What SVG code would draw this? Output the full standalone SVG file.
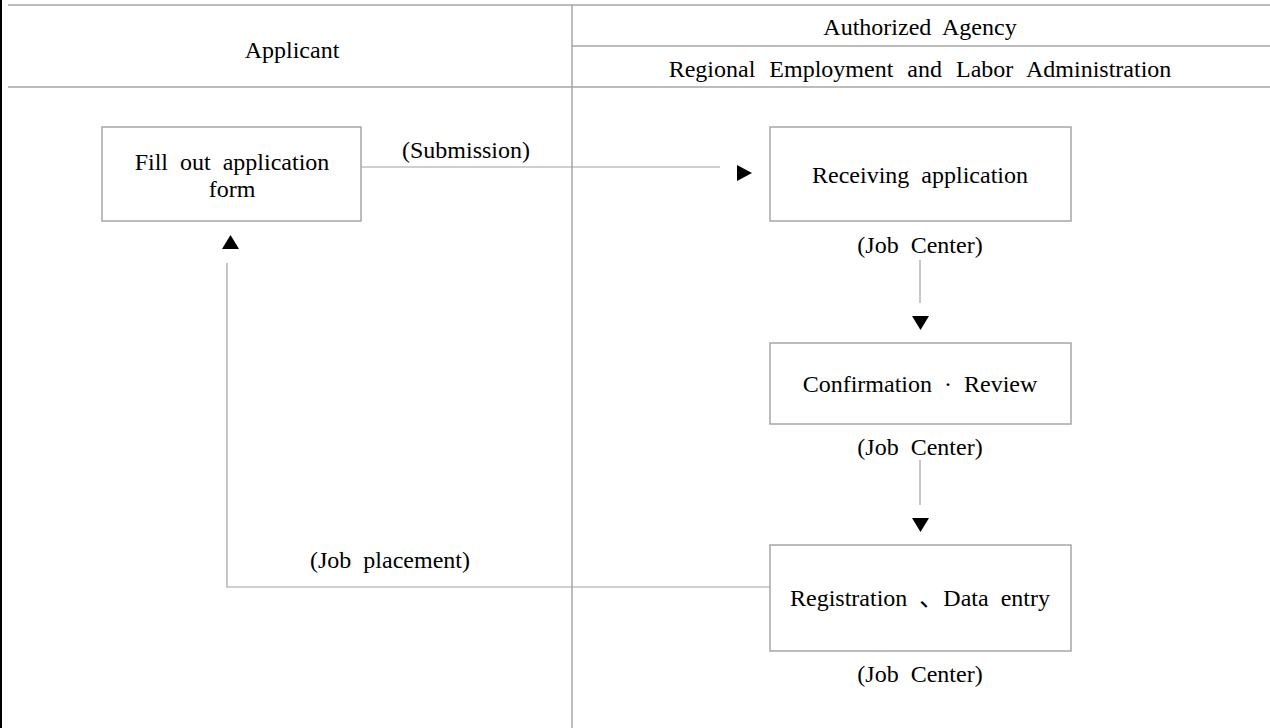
<svg xmlns="http://www.w3.org/2000/svg" width="1270" height="728" viewBox="0 0 1270 728">
  <style>
    .t { font-family: "Liberation Serif", "Noto Sans CJK KR", serif; font-size: 24px; fill: #000; text-anchor: middle; word-spacing: 6px; }
    .grid { stroke: #a6a6a6; stroke-width: 1.5; fill: none; }
    .box { fill: #fff; stroke: #a6a6a6; stroke-width: 1.5; }
    .conn { stroke: #a0a0a0; stroke-width: 1.2; fill: none; }
    .head { fill: #000; }
  </style>
  <rect width="1270" height="728" fill="#fff"/>
  <g id="frame">
    <line x1="1" y1="0" x2="1" y2="728" stroke="#000" stroke-width="2"/>
    <line class="grid" x1="8" y1="5" x2="1270" y2="5"/>
    <line class="grid" x1="572" y1="46" x2="1270" y2="46"/>
    <line class="grid" x1="8" y1="87" x2="1270" y2="87"/>
    <line class="grid" x1="572" y1="5" x2="572" y2="728"/>
    <text class="t" x="292" y="58">Applicant</text>
    <text class="t" x="920" y="35">Authorized Agency</text>
    <text class="t" x="920" y="77" style="word-spacing:8px">Regional Employment and Labor Administration</text>
  </g>
  <g id="connectors">
    <line class="conn" x1="361" y1="167" x2="720" y2="167"/>
    <polygon class="head" points="737,165 752,173 737,181"/>
    <text class="t" x="466" y="158">(Submission)</text>
    <line class="conn" x1="920" y1="260" x2="920" y2="303"/>
    <polygon class="head" points="912,316 929,316 920.5,330"/>
    <line class="conn" x1="920" y1="460" x2="920" y2="505"/>
    <polygon class="head" points="912,518 929,518 920.5,532"/>
    <polyline class="conn" points="770,587 227,587 227,263"/>
    <polygon class="head" points="222,249 239,249 230.5,235"/>
    <text class="t" x="390" y="568">(Job placement)</text>
  </g>
  <g id="node-fill">
    <rect class="box" x="102" y="127" width="259" height="94"/>
    <text class="t" x="232" y="170">Fill out application</text>
    <text class="t" x="232" y="197">form</text>
  </g>
  <g id="node-receiving">
    <rect class="box" x="770" y="127" width="301" height="94"/>
    <text class="t" x="920" y="183">Receiving application</text>
    <text class="t" x="920" y="253">(Job Center)</text>
  </g>
  <g id="node-confirmation">
    <rect class="box" x="770" y="343" width="301" height="81"/>
    <text class="t" x="920" y="392">Confirmation · Review</text>
    <text class="t" x="920" y="455">(Job Center)</text>
  </g>
  <g id="node-registration">
    <rect class="box" x="770" y="545" width="301" height="106"/>
    <text class="t" x="920" y="606">Registration 、Data entry</text>
    <text class="t" x="920" y="682">(Job Center)</text>
  </g>
</svg>
